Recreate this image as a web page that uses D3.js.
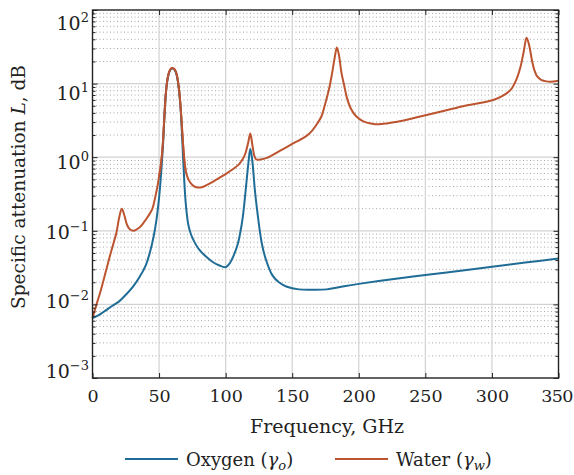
<!DOCTYPE html>
<html><head><meta charset="utf-8">
<script src="https://cdn.jsdelivr.net/npm/d3@7"></script>
<style>
body{margin:0;background:#fff}
svg{display:block}
text{font-family:"DejaVu Serif",serif;fill:#222}
</style>
</head><body>
<svg width="574" height="475"></svg>
<script>
// ---- data ----
const xTicks = [0, 50, 100, 150, 200, 250, 300, 350];
const yTicks = [1e-3, 1e-2, 1e-1, 1, 10, 100];
const yTickExp = ["\u22123", "\u22122", "\u22121", "0", "1", "2"];

const oxygenFreq = [0,5,10,15,20,25,30,35,40,43,46,48,50,51,52,53,54,55,56,57,58,59,60,61,62,63,64,65,66,67,68,69,70,71,72,74,77,80,85,90,95,100,103,106,109,111,113,115,117,118.5,120,122,124,127,130,135,140,146,155,165,176,190,200,225,250,275,300,325,350];
const oxygenAtt  = [0.0065,0.0072,0.0083,0.0096,0.011,0.0135,0.017,0.023,0.034,0.05,0.085,0.14,0.28,0.45,0.8,1.5,3.5,7,10.5,13,14.8,15.8,16,15.8,15,13.5,11,8,5,2.5,1.0,0.45,0.24,0.16,0.12,0.089,0.068,0.056,0.045,0.038,0.034,0.032,0.036,0.046,0.065,0.095,0.16,0.35,0.8,1.3,0.9,0.35,0.17,0.07,0.042,0.025,0.02,0.0174,0.016,0.0158,0.016,0.0178,0.019,0.022,0.025,0.0285,0.0325,0.037,0.042];

const waterFreq = [0,3,6,10,13,16,18,20,22,24,26,28,31,35,38,42,45,47,49,50,51,52,53,54,55,56,57,58,59,60,61,62,63,64,65,66,67,68,69,70,72,75,78,82,86,90,95,100,105,110,113,115,117,118.5,120,121.5,123,126,131,140,151,160,165,169,172,175,178,180,182,183.5,185,187,189,191,194,198,203,210,215,222,229,240,251,265,279,290,301,308,314,318,321.5,324,326,328,330,332,334,337,340,344,350];
const waterAtt  = [0.0065,0.01,0.015,0.028,0.045,0.07,0.095,0.15,0.2,0.16,0.12,0.105,0.1,0.11,0.126,0.16,0.2,0.28,0.42,0.55,0.7,1.0,1.7,3.6,7,10.5,13.3,15,16,16.3,16,15.3,13.8,11.3,8.3,5.3,2.9,1.5,0.9,0.65,0.5,0.42,0.39,0.39,0.42,0.46,0.52,0.59,0.68,0.8,0.95,1.15,1.6,2.1,1.5,1.05,0.93,0.93,0.98,1.2,1.55,1.9,2.3,2.9,3.6,5.5,9,14,23,31,25,14,9.5,6.5,4.6,3.6,3.1,2.85,2.8,2.9,3.03,3.35,3.74,4.3,4.97,5.4,6.0,6.8,8.2,11,17,28,42,33,21,15,12.5,11.2,10.8,10.6,10.9];

const seriesNames = ["Oxygen", "Water"];
const seriesSubs = ["o", "w"];
const seriesColors = ["#1f6d96", "#bd5430"];

// ---- layout ----
const svg = d3.select("svg");
const L = 92.5, R = 558.5, T = 10, B = 378;
const x = d3.scaleLinear().domain([0, 350]).range([L, R]);
const y = d3.scaleLog().domain([1e-3, 1e2]).range([B, T]);
const yLab = d3.scaleLog().domain([1e-3, 1e2]).range([378, 30]);

const minorVals = [];
for (let k = -3; k < 2; k++) for (let m = 2; m <= 9; m++) minorVals.push(m * Math.pow(10, k));

const g = svg.append("g");
g.selectAll(".mg").data(minorVals).enter().append("line")
  .attr("x1", L).attr("x2", R).attr("y1", d => y(d)).attr("y2", d => y(d))
  .attr("stroke", "#a8a8a8").attr("stroke-width", 1).attr("stroke-dasharray", "1,2.5");
g.selectAll(".Mg").data(yTicks.slice(1, 5)).enter().append("line")
  .attr("x1", L).attr("x2", R).attr("y1", d => y(d)).attr("y2", d => y(d))
  .attr("stroke", "#d2d2d2").attr("stroke-width", 1.2);
g.selectAll(".vg").data(xTicks.slice(1, -1)).enter().append("line")
  .attr("y1", T).attr("y2", B).attr("x1", d => x(d)).attr("x2", d => x(d))
  .attr("stroke", "#d2d2d2").attr("stroke-width", 1.2);

// curves
const line = d3.line().x(d => x(d[0])).y(d => y(d[1])).curve(d3.curveCatmullRom.alpha(0.5));
const oxy = oxygenFreq.map((f, i) => [f, oxygenAtt[i]]);
const wat = waterFreq.map((f, i) => [f, waterAtt[i]]);
svg.append("path").datum(wat).attr("d", line).attr("fill", "none")
  .attr("stroke", seriesColors[1]).attr("stroke-width", 2);
svg.append("path").datum(oxy).attr("d", line).attr("fill", "none")
  .attr("stroke", seriesColors[0]).attr("stroke-width", 2);
svg.append("path").datum(wat.filter(d => d[0] >= 50 && d[0] <= 70)).attr("d", line).attr("fill", "none")
  .attr("stroke", seriesColors[1]).attr("stroke-width", 2);

// axes ticks
const allY = yTicks.concat(minorVals);
svg.append("g").attr("transform", `translate(${L},0)`)
  .call(d3.axisRight(y).tickValues(allY).tickFormat("").tickSizeOuter(0).tickSize(0))
  .call(a => a.select(".domain").remove())
  .call(a => a.selectAll(".tick line").attr("x2", d => yTicks.includes(d) ? 5 : 3).attr("stroke", "#222"));
svg.append("g").attr("transform", `translate(${R},0)`)
  .call(d3.axisLeft(y).tickValues(allY).tickFormat("").tickSizeOuter(0).tickSize(0))
  .call(a => a.select(".domain").remove())
  .call(a => a.selectAll(".tick line").attr("x2", d => yTicks.includes(d) ? -5 : -3).attr("stroke", "#222"));
svg.append("g").attr("transform", `translate(0,${B})`)
  .call(d3.axisBottom(x).tickValues(xTicks).tickSize(-5).tickSizeOuter(0).tickPadding(12))
  .call(a => a.select(".domain").remove())
  .call(a => a.selectAll(".tick line").attr("stroke", "#222"))
  .call(a => a.selectAll(".tick text").attr("font-size", 17.5).attr("font-family", "DejaVu Serif").attr("fill", "#222")
    .attr("dx", d => d === 350 ? -2 : 0).attr("letter-spacing", d => d === 350 ? -0.6 : 0));
svg.append("g").attr("transform", `translate(0,${T})`)
  .call(d3.axisTop(x).tickValues(xTicks).tickSize(-5).tickSizeOuter(0).tickFormat(""))
  .call(a => a.select(".domain").remove())
  .call(a => a.selectAll(".tick line").attr("stroke", "#222"));

svg.append("rect").attr("x", L).attr("y", T).attr("width", R - L).attr("height", B - T)
  .attr("fill", "none").attr("stroke", "#222").attr("stroke-width", 1.4);

// y tick labels with superscripts
const yl = svg.append("g");
yTicks.forEach((v, i) => {
  const t = yl.append("text").attr("x", 89).attr("y", yLab(v)).attr("text-anchor", "end")
    .attr("font-size", 19);
  t.append("tspan").text("10");
  t.append("tspan").attr("dy", -8).attr("font-size", 13).text(yTickExp[i]);
});

// axis titles
svg.append("text").attr("x", 327).attr("y", 433).attr("text-anchor", "middle")
  .attr("font-size", 19).text("Frequency, GHz");
const yt = svg.append("text").attr("transform", "translate(25,187) rotate(-90)")
  .attr("text-anchor", "middle").attr("font-size", 18.5);
yt.append("tspan").text("Specific attenuation ");
yt.append("tspan").attr("font-style", "italic").text("L");
yt.append("tspan").text(", dB");

// legend
const legX = [125, 335];
seriesNames.forEach((n, i) => {
  svg.append("line").attr("x1", legX[i]).attr("x2", legX[i] + 53).attr("y1", 459).attr("y2", 459)
    .attr("stroke", seriesColors[i]).attr("stroke-width", 2);
  const t = svg.append("text").attr("x", legX[i] + 61).attr("y", 466).attr("font-size", 18);
  t.append("tspan").text(n + " (");
  t.append("tspan").attr("font-style", "italic").text("\u03b3");
  t.append("tspan").attr("font-style", "italic").attr("font-size", 13).attr("dy", 4).text(seriesSubs[i]);
  t.append("tspan").attr("dy", -4).text(")");
});
</script>
</body></html>
